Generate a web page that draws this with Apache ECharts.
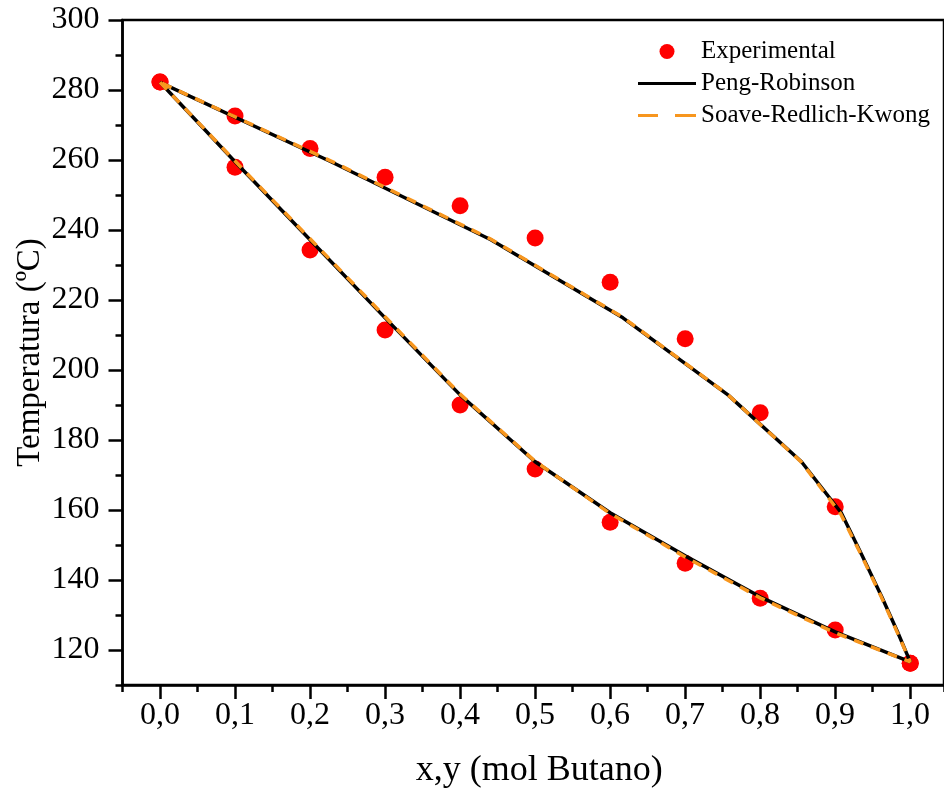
<!DOCTYPE html>
<html>
<head>
<meta charset="utf-8">
<script src="https://cdn.jsdelivr.net/npm/echarts@6/dist/echarts.min.js"></script>
<style>
  html, body { margin: 0; padding: 0; background: #fff; }
  #main { width: 944px; height: 800px; }
</style>
</head>
<body>
<div id="main"></div>
<script>
// composicion del liquido (x) usada en los calculos y en las medidas
const xLiq = [0, 0.1, 0.2, 0.3, 0.4, 0.5, 0.6, 0.7, 0.8, 0.9, 1.0]

// experimental: T de burbuja (liquido) y T de rocio (vapor)
const tExpBubble = [282.3, 257.9, 234.3, 211.4, 190.0, 171.7, 156.5, 144.8, 134.8, 125.7, 116.2]
const tExpDew = [282.3, 272.6, 263.3, 255.1, 246.9, 237.7, 225.1, 208.9, 187.8, 160.9, 116.2]

// Peng-Robinson: T de burbuja y composicion del vapor en equilibrio
const tPR = [282.2, 259.5, 237.2, 214.9, 192.9, 173.8, 159.2, 146.9, 135.2, 125.2, 116.6]
const yPR = [0, 0.228, 0.441, 0.617, 0.757, 0.855, 0.908, 0.936, 0.962, 0.983, 1.0]

// Soave-Redlich-Kwong
const tSRK = [282.2, 259.7, 237.5, 215.2, 193.1, 173.9, 159.0, 146.6, 134.9, 124.9, 116.6]
const ySRK = [0, 0.228, 0.44, 0.616, 0.756, 0.854, 0.907, 0.936, 0.962, 0.983, 1.0]

const FONT = "'Liberation Serif', 'Times New Roman', serif"
const ORANGE = '#f7961e'

// curva de burbuja (x,T) y luego la de rocio (y,T) en sentido inverso
const envelope = (t, y) => {
  const bubble = xLiq.map((x, i) => [x, t[i]])
  const dew = y.map((v, i) => [v, t[i]]).reverse()
  return bubble.concat(dew)
}
const expData = xLiq.map((x, i) => [x, tExpBubble[i]])
  .concat(xLiq.map((x, i) => [x, tExpDew[i]]))

const chart = echarts.init(document.getElementById('main'))
const option = {
  animation: false,
  backgroundColor: '#fff',
  legend: {
    orient: 'vertical',
    left: 633,
    top: 34,
    itemWidth: 58,
    itemHeight: 15,
    itemGap: 7,
    textStyle: { fontFamily: FONT, fontSize: 25, color: '#000' },
    data: [
      { name: 'Experimental', icon: 'circle' },
      { name: 'Peng-Robinson', icon: 'path://M0,0 h58 v3 h-58 z' },
      { name: 'Soave-Redlich-Kwong', icon: 'path://M0,0 h20 v3 h-20 z M37,0 h21 v3 h-21 z' },
    ],
  },
  grid: [
    // grid de datos: x de -0,05 hasta el borde derecho / T de 110 a 300
    {
      left: 122.5, right: 0, top: 20, height: 665,
      show: true, borderColor: '#000', borderWidth: 2.5,
    },
    // grid solo para las marcas principales y etiquetas
    { left: 160, top: 20, width: 750, height: 630 },
  ],
  xAxis: [
    {
      gridIndex: 0,
      type: 'value',
      min: -0.05,
      max: 1.045,
      interval: 0.05,
      name: 'x,y (mol Butano)',
      nameLocation: 'middle',
      nameGap: 68,
      nameTextStyle: { fontFamily: FONT, fontSize: 36, color: '#000', padding: [0, 0, 0, 12] },
      axisLine: { show: true, onZero: false, lineStyle: { color: '#000', width: 2.5 } },
      axisTick: { show: true, length: 7, lineStyle: { color: '#000', width: 2.5 } },
      axisLabel: { show: false },
      splitLine: { show: false },
    },
    {
      gridIndex: 1,
      type: 'value',
      min: 0,
      max: 1,
      interval: 0.1,
      offset: 35,
      axisLine: { show: false, onZero: false },
      axisTick: { show: true, length: 14, lineStyle: { color: '#000', width: 2.5 } },
      axisLabel: {
        margin: 15,
        fontFamily: FONT,
        fontSize: 32,
        color: '#000',
        showMinLabel: true,
        showMaxLabel: true,
        formatter: (v) => v.toFixed(1).replace('.', ','),
      },
      splitLine: { show: false },
    },
  ],
  yAxis: [
    {
      gridIndex: 0,
      type: 'value',
      min: 110,
      max: 300,
      interval: 10,
      name: 'Temperatura (ºC)',
      nameLocation: 'middle',
      nameGap: 76,
      nameTextStyle: { fontFamily: FONT, fontSize: 33, color: '#000' },
      axisLine: { show: true, onZero: false, lineStyle: { color: '#000', width: 2.5 } },
      axisTick: { show: true, length: 7, lineStyle: { color: '#000', width: 2.5 } },
      axisLabel: { show: false },
      splitLine: { show: false },
    },
    {
      gridIndex: 1,
      type: 'value',
      min: 120,
      max: 300,
      interval: 20,
      offset: 37.5,
      axisLine: { show: false, onZero: false },
      axisTick: { show: true, length: 14, lineStyle: { color: '#000', width: 2.5 } },
      axisLabel: {
        margin: 23,
        fontFamily: FONT,
        fontSize: 32,
        color: '#000',
        showMinLabel: true,
        showMaxLabel: true,
      },
      splitLine: { show: false },
    },
  ],
  series: [
    {
      name: 'Experimental',
      type: 'scatter',
      xAxisIndex: 0,
      yAxisIndex: 0,
      symbol: 'circle',
      symbolSize: 17,
      itemStyle: { color: '#ff0000', opacity: 1 },
      data: expData,
    },
    {
      name: 'Peng-Robinson',
      type: 'line',
      xAxisIndex: 0,
      yAxisIndex: 0,
      symbol: 'none',
      lineStyle: { color: '#000', width: 3.5, type: 'solid' },
      itemStyle: { color: '#000' },
      data: envelope(tPR, yPR),
    },
    {
      name: 'Soave-Redlich-Kwong',
      type: 'line',
      xAxisIndex: 0,
      yAxisIndex: 0,
      symbol: 'none',
      lineStyle: { color: ORANGE, width: 3.5, type: [10, 8] },
      itemStyle: { color: ORANGE },
      data: envelope(tSRK, ySRK),
    },
  ],
}
chart.setOption(option)
</script>
</body>
</html>
